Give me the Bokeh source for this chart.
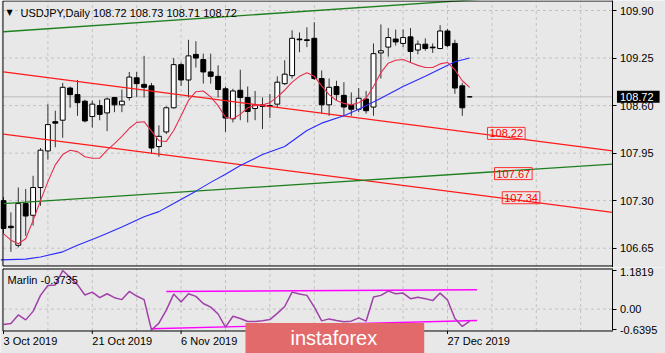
from bokeh.plotting import figure
from bokeh.layouts import column
from bokeh.models import (Range1d, FixedTicker, LinearAxis, Label,
                          ColumnDataSource, PrintfTickFormatter)
from bokeh.embed import file_html
from bokeh.resources import INLINE

BG = "#E8E8E8"
FONT = "Liberation Sans"
GRID = "#C2C2C2"

# ---------------- data ----------------
opens = [107.30, 106.95, 106.69, 107.26, 107.10, 107.48, 107.98, 108.38, 108.40, 108.84,
         108.75, 108.66, 108.45, 108.60, 108.50, 108.71, 108.61, 108.71, 108.98, 108.89,
         108.87, 108.04, 108.24, 108.57, 109.16, 108.95, 109.30, 109.23, 109.06, 109.00,
         108.83, 108.42, 108.81, 108.71, 108.56, 108.61, 108.60, 108.62, 108.90, 109.01,
         109.51, 109.50, 109.52, 108.97, 108.61, 108.86, 108.74, 108.61, 108.55, 108.69,
         108.58, 109.32, 109.40, 109.51, 109.45, 109.54, 109.36, 109.44, 109.40, 109.38,
         109.62, 109.45, 108.87, 108.72]
highs = [107.35, 107.14, 107.48, 107.46, 107.64, 108.02, 108.62, 108.53, 108.91, 108.86,
         108.95, 108.68, 108.67, 108.68, 108.71, 108.72, 108.82, 109.06, 109.06, 109.28,
         108.91, 108.33, 108.59, 109.25, 109.19, 109.50, 109.48, 109.31, 109.31, 109.15,
         108.86, 108.83, 109.09, 108.86, 108.80, 108.71, 108.76, 109.00, 109.22, 109.63,
         109.60, 109.67, 109.74, 109.08, 108.97, 108.94, 108.92, 108.78, 108.84, 108.80,
         109.45, 109.71, 109.66, 109.64, 109.64, 109.66, 109.49, 109.52, 109.45, 109.70,
         109.65, 109.50, 108.91, 108.73]
lows = [106.85, 106.60, 106.66, 106.82, 106.96, 107.23, 107.86, 108.03, 108.16, 108.57,
        108.46, 108.37, 108.30, 108.40, 108.25, 108.51, 108.51, 108.67, 108.72, 108.71,
        107.94, 107.90, 108.21, 108.56, 108.87, 108.71, 109.12, 108.90, 108.90, 108.71,
        108.24, 108.37, 108.40, 108.37, 108.40, 108.28, 108.43, 108.58, 108.88, 108.97,
        109.33, 109.40, 108.95, 108.49, 108.46, 108.67, 108.46, 108.46, 108.51, 108.49,
        108.46, 108.97, 109.27, 109.42, 109.40, 109.19, 109.30, 109.35, 109.32, 109.37,
        109.40, 108.76, 108.46, 108.71]
closes = [106.92, 106.93, 107.26, 107.09, 107.48, 107.99, 108.34, 108.36, 108.85, 108.75,
          108.64, 108.39, 108.62, 108.48, 108.69, 108.61, 108.66, 108.99, 108.90, 108.85,
          108.02, 108.18, 108.57, 109.16, 108.95, 109.28, 109.25, 109.06, 109.00, 108.82,
          108.43, 108.80, 108.71, 108.52, 108.61, 108.59, 108.59, 108.92, 109.03, 109.52,
          109.50, 109.49, 108.97, 108.61, 108.85, 108.75, 108.58, 108.55, 108.70, 108.53,
          109.31, 109.35, 109.53, 109.47, 109.53, 109.34, 109.44, 109.38, 109.39, 109.62,
          109.42, 108.84, 108.57, 108.72]
bars = list(range(len(opens)))

# red (fast) moving average, one value per bar
ma_fast = [106.85, 106.76, 106.71, 106.78, 107.03, 107.30, 107.56, 107.79, 107.93, 107.99,
           107.97, 107.90, 107.88, 107.88, 107.99, 108.08, 108.18, 108.29, 108.37, 108.38,
           108.25, 108.12, 108.11, 108.26, 108.46, 108.67, 108.79, 108.80, 108.72, 108.60,
           108.44, 108.42, 108.48, 108.57, 108.60, 108.61, 108.64, 108.72, 108.81, 108.92,
           109.00, 109.05, 109.00, 108.87, 108.75, 108.67, 108.63, 108.61, 108.64, 108.70,
           108.86, 109.05, 109.18, 109.22, 109.23, 109.19, 109.15, 109.12, 109.12, 109.17,
           109.19, 109.09, 108.94, 108.85]
# blue (slow) moving average, read at these bars
slow_bars = [-0.4, 3, 5, 8, 10, 13, 16, 19, 21, 23, 26, 28, 30, 32, 35, 38, 41, 43, 46, 48,
             51, 54, 57, 59, 61, 63]
slow_vals = [106.49, 106.50, 106.53, 106.60, 106.69, 106.81, 106.94, 107.08, 107.15, 107.26,
             107.43, 107.55, 107.66, 107.78, 107.93, 108.04, 108.26, 108.36, 108.46, 108.55,
             108.70, 108.86, 109.00, 109.10, 109.20, 109.25]

# trend/channel lines (start bar, start price, end bar, end price)
trend_x0 = [0, 0, 0, 0]
trend_y0 = [109.61, 109.06, 108.21, 107.26]
trend_x1 = [70, 82.3, 82.3, 82.3]
trend_y1 = [110.09, 107.98, 107.14, 107.80]
trend_color = ["#1E7F1E", "#FF1A1A", "#FF1A1A", "#1E7F1E"]

level_bars = [65.4, 66.35, 67.4]
level_values = [108.22, 107.67, 107.34]

# Marlin oscillator
marlin = [-0.47, -0.44, -0.18, -0.33, -0.07, 0.42, 0.72, 0.74, 1.18, 0.97,
          0.75, 0.43, 0.52, 0.35, 0.47, 0.35, 0.29, 0.54, 0.40, 0.29,
          -0.64, -0.43, -0.03, 0.46, 0.22, 0.47, 0.39, 0.17, 0.06, -0.15,
          -0.55, -0.22, -0.29, -0.38, -0.38, -0.36, -0.32, -0.13, 0.08, 0.52,
          0.46, 0.42, 0.06, -0.36, -0.30, -0.35, -0.39, -0.37, -0.27, -0.37,
          0.37, 0.42, 0.55, 0.47, 0.49, 0.32, 0.36, 0.32, 0.26, 0.49,
          0.28, -0.29, -0.53, -0.37]
m_x0 = [22, 20]
m_y0 = [0.54, -0.60]
m_x1 = [64, 64]
m_y1 = [0.59, -0.35]

price_ticks = [106.65, 107.30, 107.95, 108.60, 109.25, 109.90]
last_price = 108.72
marlin_ticks = [-0.6395, 0.0, 1.1819]
marlin_tick_labels = ["-0.6395", "0.00", "1.1819"]
grid_bars = list(range(6, 84, 6))
date_tick_bars = [0, 12, 24, 36, 48, 60]
date_label_bars = [0, 12, 24, 60]
date_label_texts = ["3 Oct 2019", "21 Oct 2019", "6 Nov 2019", "27 Dec 2019"]

# ---------------- panel geometry (data units) ----------------
X_RANGE = (-0.405, 89.46)
LEFT_EDGE = -0.07
AXIS_X = 82.36
P_RANGE = (106.386, 110.037)
P_TOP, P_BOTTOM = 110.030, 106.407
M_RANGE = (-1.359, 1.273)
M_TOP, M_BOTTOM = 1.227, -0.670
M_PX = 32.67          # pixels per Marlin unit
XR = Range1d(*X_RANGE)


def panel(height, yr):
    f = figure(width=665, height=height, x_range=XR, y_range=Range1d(*yr),
               x_axis_location=None, y_axis_location=None, toolbar_location=None,
               tools="", title=None, output_backend="svg",
               min_border_left=0, min_border_right=0, min_border_top=0, min_border_bottom=0,
               background_fill_color=BG, border_fill_color=BG, outline_line_color=None)
    f.xgrid.visible = False
    f.ygrid.visible = False
    return f


def style_axis(a):
    a.axis_line_color = "black"
    a.major_tick_line_color = "black"
    a.major_tick_out = 4
    a.major_tick_in = 0
    a.minor_tick_line_color = None
    a.major_label_text_font = FONT
    a.major_label_text_font_size = "11px"
    a.major_label_text_color = "black"
    a.major_label_standoff = 3


# ---------------- main price panel ----------------
p = panel(267, P_RANGE)
# grid
p.segment(x0=grid_bars, x1=grid_bars, y0=P_BOTTOM, y1=P_TOP, line_color=GRID, line_dash="3 3")
p.segment(x0=LEFT_EDGE, x1=AXIS_X, y0=price_ticks, y1=price_ticks, line_color=GRID, line_dash="3 3")
p.segment(x0=[LEFT_EDGE], x1=[AXIS_X], y0=[last_price], y1=[last_price], line_color="#BDBDBD")

src = ColumnDataSource(dict(
    x=bars, o=opens, h=highs, l=lows, c=closes,
    top=[max(a, b) for a, b in zip(opens, closes)],
    bottom=[min(a, b) for a, b in zip(opens, closes)],
    fill=["white" if c > o else "black" for o, c in zip(opens, closes)],
))
p.segment(x0="x", y0="l", x1="x", y1="h", source=src, line_color="#333333", line_width=1)
p.vbar(x="x", top="top", bottom="bottom", width=0.66, fill_color="fill",
       line_color="black", line_width=1, source=src)

p.segment(x0=trend_x0, y0=trend_y0, x1=trend_x1, y1=trend_y1, line_color=trend_color,
          line_width=1.3)
p.line(slow_bars, slow_vals, line_color="#2A2AFF", line_width=1.1)
p.line(bars, ma_fast, line_color="#E6304E", line_width=1.1)

# panel border
p.segment(x0=[LEFT_EDGE, LEFT_EDGE, LEFT_EDGE], x1=[LEFT_EDGE, AXIS_X, AXIS_X],
          y0=[P_BOTTOM, P_TOP, P_BOTTOM], y1=[P_TOP, P_TOP, P_BOTTOM],
          line_color="black", line_width=1)

ax = LinearAxis(ticker=FixedTicker(ticks=price_ticks),
                formatter=PrintfTickFormatter(format="%.2f"), fixed_location=AXIS_X)
style_axis(ax)
p.add_layout(ax, "right")

for b, v in zip(level_bars, level_values):
    p.add_layout(Label(x=b, y=v, text=f"{v:.2f}", text_font=FONT, text_font_size="11px",
                       text_color="#FF0000", text_align="left", text_baseline="middle",
                       border_line_color="#FF3030", border_line_width=1, padding=2))

p.add_layout(Label(x=AXIS_X, y=last_price, x_offset=4, text=f"{last_price:.2f}",
                   text_font=FONT, text_font_size="11px", text_color="white",
                   text_align="left", text_baseline="middle",
                   background_fill_color="black", level="overlay",
                   padding=dict(left=3, right=6, top=2, bottom=2)))
p.add_layout(Label(x=6, y=255, x_units="screen", y_units="screen", text="▼",
                   text_font="DejaVu Sans", text_font_size="8px", text_color="black",
                   text_baseline="middle"))
p.add_layout(Label(x=20, y=255, x_units="screen", y_units="screen",
                   text="USDJPY,Daily  108.72 108.73 108.71 108.72",
                   text_font=FONT, text_font_size="11px", text_color="black",
                   text_baseline="middle"))

# ---------------- Marlin panel ----------------
q = panel(86, M_RANGE)
q.segment(x0=grid_bars, x1=grid_bars, y0=M_BOTTOM, y1=M_TOP, line_color=GRID, line_dash="3 3")
q.segment(x0=[LEFT_EDGE], x1=[AXIS_X], y0=[0.0], y1=[0.0], line_color=GRID, line_dash="3 3")

q.segment(x0=m_x0, y0=m_y0, x1=m_x1, y1=m_y1, line_color="#FF00FF", line_width=1.4)
q.line(bars, marlin, line_color="#A040A8", line_width=1.5)

q.segment(x0=[LEFT_EDGE, LEFT_EDGE, LEFT_EDGE], x1=[LEFT_EDGE, AXIS_X, AXIS_X],
          y0=[M_BOTTOM, M_TOP, M_BOTTOM], y1=[M_TOP, M_TOP, M_BOTTOM],
          line_color="black", line_width=1)
# date ticks under the panel
q.segment(x0=date_tick_bars, x1=date_tick_bars, y0=M_BOTTOM, y1=M_BOTTOM - 3 / M_PX,
          line_color="black")

qa = LinearAxis(ticker=FixedTicker(ticks=marlin_ticks), fixed_location=AXIS_X,
                bounds=(M_BOTTOM, M_TOP),
                major_label_overrides={t: s for t, s in zip(marlin_ticks, marlin_tick_labels)})
style_axis(qa)
q.add_layout(qa, "right")

q.add_layout(Label(x=7, y=74, x_units="screen", y_units="screen", text="Marlin -0.3735",
                   text_font=FONT, text_font_size="11px", text_color="black",
                   text_baseline="middle"))
for b, t in zip(date_label_bars, date_label_texts):
    q.add_layout(Label(x=b, y=M_BOTTOM - 10 / M_PX, text=t, text_font=FONT,
                       text_font_size="11px", text_color="black", text_align="left",
                       text_baseline="middle"))

q.add_layout(Label(x=245, y=15.5, x_units="screen", y_units="screen", text="instaforex",
                   text_font=FONT, text_font_size="20px", text_color="white",
                   text_align="left", text_baseline="middle",
                   background_fill_color="#E36A6A", level="overlay",
                   padding=dict(left=45, right=47, top=4, bottom=4)))

layout = column(p, q, spacing=0)
open("out.html", "w").write(file_html(layout, INLINE))
